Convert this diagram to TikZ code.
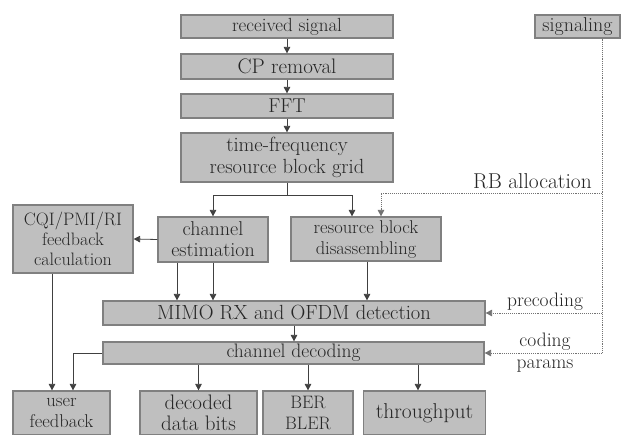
\documentclass[tikz,border=0pt]{standalone}
\usepackage{tikz}
\usetikzlibrary{arrows.meta}

\begin{document}
\begin{tikzpicture}[x=1pt,y=-1pt,
	blk/.style={draw=black!50,fill=black!25,line width=1.2pt,inner sep=0pt,align=center,text=black!85,font=\fontsize{19.5}{21}\selectfont},
	lbl/.style={inner sep=0pt,align=center,text=black!85,font=\fontsize{19.5}{22}\selectfont},
	arr/.style={draw=black!75,line width=0.8pt,-{Triangle[length=6.5pt,width=6.5pt]}},
	ln/.style={draw=black!75,line width=0.8pt},
	sigl/.style={draw=black!55,line width=0.9pt,densely dotted}]
	\useasboundingbox (0,0) rectangle (624,435);
	
	% receiver chain
	\node[blk,minimum width=212pt,minimum height=23pt,font=\fontsize{19}{20}\selectfont] (rx) at (287,26.5) {received signal};
	\node[blk,minimum width=212pt,minimum height=25pt,font=\fontsize{21}{21}\selectfont] (cp) at (287,66.5) {CP removal};
	\node[blk,minimum width=212pt,minimum height=24pt,font=\fontsize{20}{21}\selectfont] (fft) at (287,106) {FFT};
	\node[blk,minimum width=212pt,minimum height=49pt,font=\fontsize{20.5}{21.5}\selectfont] (grid) at (287,157.5) {time-frequency\\resource block grid};
	
	\node[blk,minimum width=120pt,minimum height=68pt,font=\fontsize{18}{20}\selectfont] (cqi) at (73,239) {CQI/PMI/RI\\feedback\\calculation};
	\node[blk,minimum width=110pt,minimum height=45pt,font=\fontsize{20}{21}\selectfont] (chest) at (213,239.5) {channel\\estimation};
	\node[blk,minimum width=150pt,minimum height=44pt,font=\fontsize{18.5}{21}\selectfont] (rbd) at (366,239) {resource block\\disassembling};
	
	\node[blk,minimum width=382pt,minimum height=24pt,font=\fontsize{20.5}{21}\selectfont] (mimo) at (294,313) {MIMO RX and OFDM detection};
	\node[blk,minimum width=381pt,minimum height=22pt] (dec) at (293.5,353) {channel decoding};
	
	% outputs
	\node[blk,minimum width=97pt,minimum height=44pt,font=\fontsize{18.5}{21}\selectfont] (uf) at (61.5,413) {user\\feedback};
	\node[blk,minimum width=117pt,minimum height=44pt,font=\fontsize{21}{21}\selectfont] (bits) at (198.5,413) {decoded\\data bits};
	\node[blk,minimum width=90pt,minimum height=44pt,font=\fontsize{18}{21}\selectfont] (ber) at (308,413) {BER\\BLER};
	\node[blk,minimum width=122pt,minimum height=44pt,font=\fontsize{21.5}{21}\selectfont] (thr) at (424.5,413) {throughput};
	
	\node[blk,minimum width=85pt,minimum height=23pt,font=\fontsize{20}{20}\selectfont] (sig) at (577.5,26.5) {signaling};
	
	% solid connectors
	\draw[arr] (rx) -- (cp);
	\draw[arr] (cp) -- (fft);
	\draw[arr] (fft) -- (grid);
	\coordinate (split) at (287,195);
	\draw[ln] (grid.south) -- (split);
	\draw[arr] (split) -| (chest.north);
	\draw[arr] (split) -| ([xshift=-14pt]rbd.north);
	\draw[arr] (chest.west) -- (cqi.east);
	\coordinate (cha) at ([xshift=-36pt]chest.south);
	\draw[arr] (cha) -- (cha |- mimo.north);
	\draw[arr] (chest.south) -- (chest.south |- mimo.north);
	\coordinate (rbo) at ([xshift=1pt]rbd.south);
	\draw[arr] (rbo) -- (rbo |- mimo.north);
	\draw[arr] (mimo.south) -- (mimo.south |- dec.north);
	\draw[arr] ([xshift=-21pt]cqi.south) -- ([xshift=-9.5pt]uf.north);
	\draw[arr] (dec.west) -| ([xshift=11.5pt]uf.north);
	\draw[arr] (dec.south -| bits.north) -- (bits.north);
	\draw[arr] (dec.south -| ber.north) -- (ber.north);
	\draw[arr] (dec.south -| {(418,0)}) -- (thr.north -| {(418,0)});
	
	% signaling (dotted)
	\coordinate (sigr) at (602,193);
	\coordinate (sigp) at (602,313);
	\coordinate (sigd) at (602,353);
	\draw[sigl] (sig.south -| sigr) -- (sigd);
	\draw[sigl,arr,draw=black!55] (sigr) -| ([xshift=15pt]rbd.north);
	\draw[sigl,arr,draw=black!55] (sigp) -- (mimo.east);
	\draw[sigl,arr,draw=black!55] (sigd) -- (dec.east);
	
	\node[lbl,anchor=south east,font=\fontsize{21.5}{22}\selectfont] (rblab) at (592,189) {RB allocation};
	\node[lbl] (prec) at (545,302) {precoding};
	\node[lbl] (cpar) at (545,353) {coding\\params};
\end{tikzpicture}
\end{document}
